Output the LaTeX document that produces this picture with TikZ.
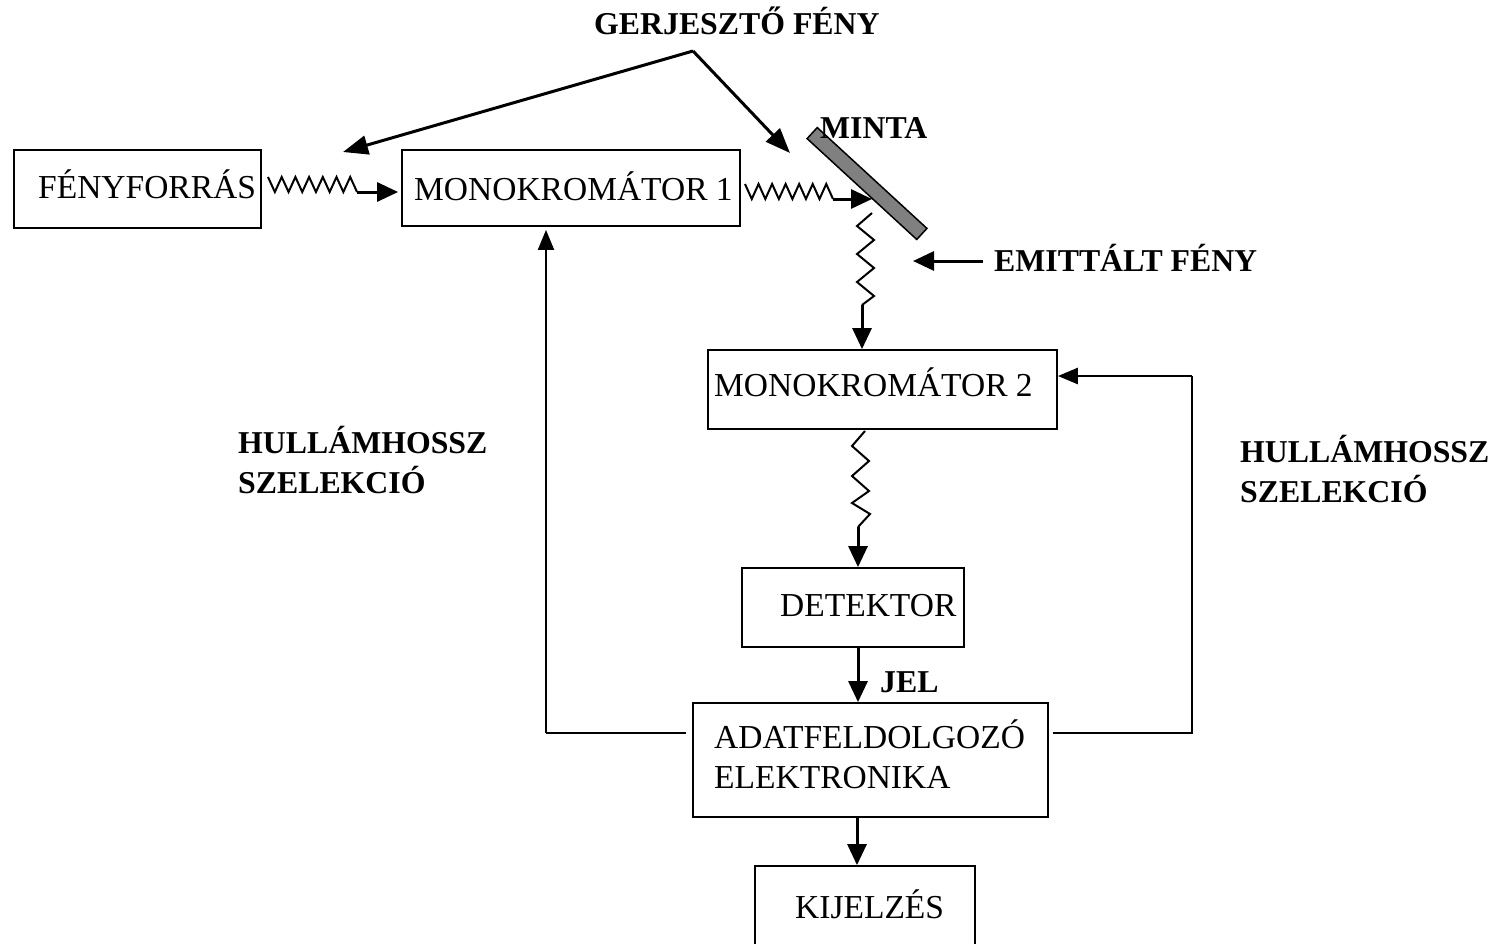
\documentclass[tikz,border=0pt]{standalone}
\usepackage{fontspec}
\setmainfont{Liberation Serif}
\usetikzlibrary{arrows.meta,calc}
\tikzset{
  box/.style={draw, line width=1.8pt, inner sep=0pt},
  txt/.style={inner sep=0pt, anchor=base west, font=\fontsize{33.5}{40}\selectfont},
  btxt/.style={inner sep=0pt, anchor=base west, font=\fontsize{31.8}{40}\selectfont\bfseries},
  arr/.style={line width=3pt, -{Triangle[length=21pt,width=19pt]}},
  garr/.style={line width=3pt, -{Triangle[length=25pt,width=19pt]}},
  fb/.style={line width=2pt},
  wave/.style={line width=2pt, line join=miter},
  plate/.style={draw, line width=1.5pt, fill=black!50, inner sep=0pt, minimum width=149pt, minimum height=15pt, rotate=-42.6},
}
\begin{document}
\begin{tikzpicture}[x=1pt,y=-1pt]
\clip (0,0) rectangle (1495,943);
\fill[white] (0,0) rectangle (1495,943);

% boxes
\node[box, minimum width=247pt, minimum height=78pt] (src) at (137.5,189) {};
\node[box, minimum width=338pt, minimum height=76pt] (mono1) at (571,188) {};
\node[box, minimum width=349pt, minimum height=79pt] (mono2) at (882.5,389.5) {};
\node[box, minimum width=222pt, minimum height=79pt] (det) at (853,607.5) {};
\node[box, minimum width=355pt, minimum height=114pt] (adat) at (870.5,760) {};
\node[box, minimum width=220pt, minimum height=80pt] (kij) at (865,906) {};

% sample plate
\node[plate] (sample) at (867,183.5) {};

% box texts
\node[txt] (srct) at (38,198) {FÉNYFORRÁS};
\node[txt] (mono1t) at (414,200) {MONOKROMÁTOR 1};
\node[txt] (mono2t) at (714,396) {MONOKROMÁTOR 2};
\node[txt] (dett) at (780,616) {DETEKTOR};
\node[txt] (adatt) at (714,748) {\begin{tabular}[t]{@{}l@{}}ADATFELDOLGOZÓ\\ELEKTRONIKA\end{tabular}};
\node[txt] (kijt) at (795,918) {KIJELZÉS};

% labels
\node[btxt] (gerj) at (594,34) {GERJESZTŐ FÉNY};
\node[btxt] (minta) at (820,138) {MINTA};
\node[btxt] (emit) at (994,271) {EMITTÁLT FÉNY};
\node[btxt] (hl) at (238,453) {\begin{tabular}[t]{@{}l@{}}HULLÁMHOSSZ\\SZELEKCIÓ\end{tabular}};
\node[btxt] (hr) at (1240,462) {\begin{tabular}[t]{@{}l@{}}HULLÁMHOSSZ\\SZELEKCIÓ\end{tabular}};
\node[btxt] (jel) at (880,692) {JEL};

% excitation light arrows
\coordinate (apex) at (693,51);
\coordinate (g1) at (343,152);
\coordinate (g2) at (790,153);
\draw[garr] (apex) -- (g1);
\draw[garr] (apex) -- (g2);

% zigzag 1: source -> mono1
\coordinate (z1s) at (268,177);
\coordinate (z1e) at (357.1,192);
\draw[wave] (z1s) \foreach \d in {15,-15,15,-15,15,-15,15,-15,15,-15,15,-15,15} { -- ++(6.85,\d) };
\draw[arr] (z1e) -- ($(mono1.west |- z1e)+(-3,0)$);

% zigzag 2: mono1 -> sample
\coordinate (z2s) at (745,184);
\coordinate (z2e) at (833,199);
\coordinate (hit) at (872,199);
\draw[wave] (z2s) \foreach \d in {15,-15,15,-15,15,-15,15,-15,15,-15,15,-15,15} { -- ++(6.77,\d) };
\draw[arr] (z2e) -- (hit);

% zigzag 3: sample -> mono2
\coordinate (z3s) at (872,213);
\coordinate (z3e) at (862,305);
\draw[wave] (z3s) -- (857,226) -- (874,240) -- (857,254) -- (874,268) -- (857,282) -- (874,296) -- (z3e);
\draw[arr] (z3e) -- (mono2.north -| z3e);

% emitted light arrow
\coordinate (e1) at (983,261);
\coordinate (e2) at (913,261);
\draw[arr] (e1) -- (e2);

% zigzag 4: mono2 -> detector
\coordinate (z4s) at (865,431);
\coordinate (z4e) at (858,527);
\draw[wave] (z4s) -- (852,446) -- (869,461) -- (852,476) -- (869,491) -- (852,503) -- (870,514) -- (z4e);
\draw[arr] (z4e) -- (det.north -| z4e);

% detector -> electronics (JEL)
\coordinate (xj) at (858,0);
\draw[arr] (det.south -| xj) -- (adat.north -| xj);

% electronics -> display
\coordinate (xk) at (857,0);
\draw[arr] (adat.south -| xk) -- (kij.north -| xk);

% feedback left
\coordinate (fy) at (0,733);
\coordinate (fl) at (546,733);
\draw[fb] ($(adat.west |- fy)+(-6,0)$) -- (fl);
\draw[fb, -{Triangle[length=20pt,width=16pt]}] (fl) -- ($(mono1.south -| fl)+(0,3)$);

% feedback right
\coordinate (fr) at (1192,733);
\coordinate (frt) at (1192,376);
\draw[fb] ($(adat.east |- fy)+(4,0)$) -- (fr) -- (frt);
\draw[line width=2.6pt, -{Triangle[length=20pt,width=16pt]}] (frt) -- (mono2.east |- frt);
\end{tikzpicture}
\end{document}
